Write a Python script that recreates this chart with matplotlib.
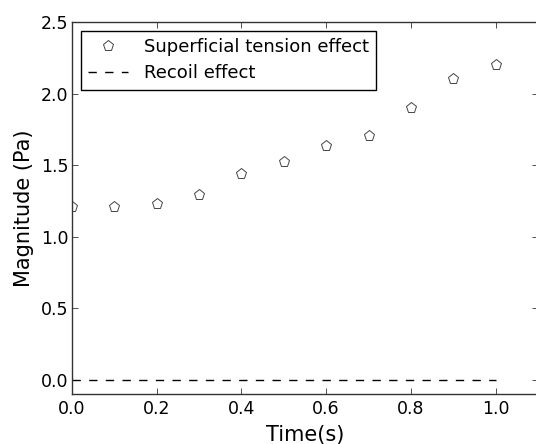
import matplotlib
matplotlib.use("Agg")
import matplotlib.pyplot as plt

time_s = [0.0, 0.1, 0.2, 0.3, 0.4, 0.5, 0.6, 0.7, 0.8, 0.9, 1.0]
superficial = [1.21, 1.21, 1.23, 1.29, 1.44, 1.52, 1.63, 1.70, 1.90, 2.10, 2.20]
recoil = [0.0] * len(time_s)

plt.rcParams['font.family'] = ['DejaVu Sans']
plt.rcParams['xtick.direction'] = 'in'
plt.rcParams['ytick.direction'] = 'in'

fig = plt.figure(figsize=(5.36, 4.44), dpi=100)
ax = fig.add_axes([72/536, 50/444, 466/536, 372/444])

ax.plot(time_s, superficial, linestyle='none', marker='p', markersize=8,
        markerfacecolor='white', markeredgecolor='#444444', markeredgewidth=0.7,
        label='Superficial tension effect')
ax.plot(time_s, recoil, color='black', linewidth=1, dashes=(6, 6),
        label='Recoil effect')

ax.set_xlim(0, 1.1)
ax.set_ylim(-0.1, 2.5)
ax.set_xticks([0.0, 0.2, 0.4, 0.6, 0.8, 1.0])
ax.set_yticks([0.0, 0.5, 1.0, 1.5, 2.0, 2.5])
ax.tick_params(which='both', top=True, right=True, length=4, width=0.6,
               labelsize=12.5, color='#333333')
ax.tick_params(axis='y', pad=2.5)
ax.tick_params(axis='x', pad=4)
for s in ax.spines.values():
    s.set_linewidth(1.0)
    s.set_color('#333333')

ax.set_xlabel('Time(s)', fontsize=15, labelpad=5)
ax.set_ylabel('Magnitude (Pa)', fontsize=15, labelpad=5)

leg = ax.legend(loc='upper left', numpoints=1, fontsize=13, fancybox=False,
                framealpha=1, edgecolor='black', borderaxespad=0.5,
                handlelength=2.2, handletextpad=0.9, borderpad=0.4,
                labelspacing=0.45)
leg.get_frame().set_linewidth(1.0)

fig.savefig('out.png', dpi=100, facecolor='white')
